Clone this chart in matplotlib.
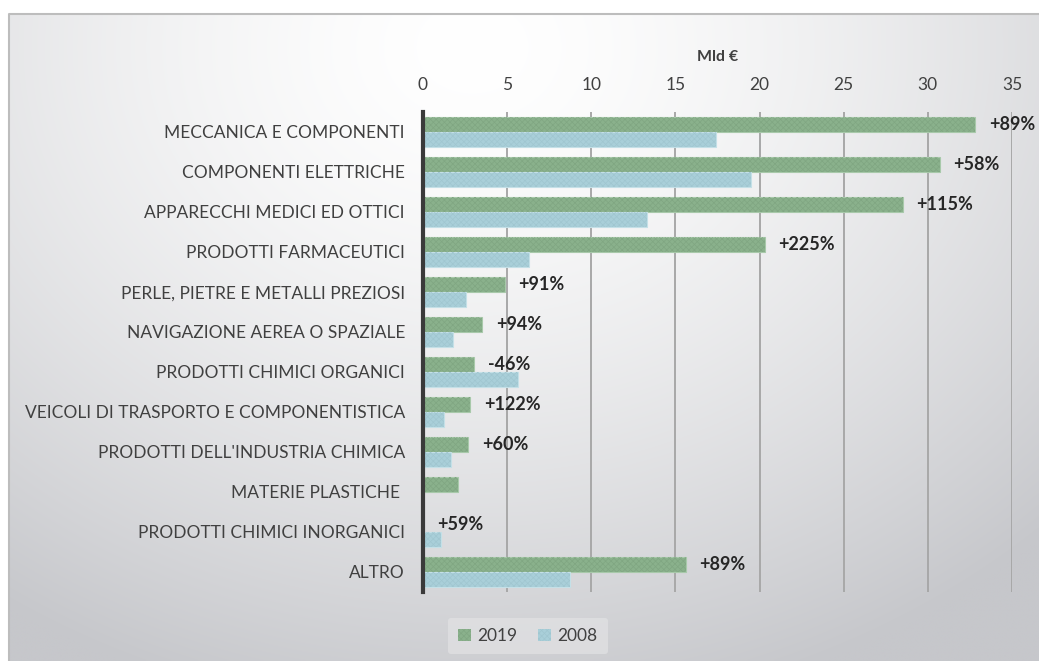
import matplotlib.pyplot as plt
import numpy as np
from matplotlib.patches import Patch

# data (Mld €)
categories = ["MECCANICA E COMPONENTI", "COMPONENTI ELETTRICHE", "APPARECCHI MEDICI ED OTTICI",
              "PRODOTTI FARMACEUTICI", "PERLE, PIETRE E METALLI PREZIOSI", "NAVIGAZIONE AEREA O SPAZIALE",
              "PRODOTTI CHIMICI ORGANICI", "VEICOLI DI TRASPORTO E COMPONENTISTICA",
              "PRODOTTI DELL'INDUSTRIA CHIMICA", "MATERIE PLASTICHE ", "PRODOTTI CHIMICI INORGANICI", "ALTRO"]
val_2019 = [32.8, 30.7, 28.5, 20.3, 4.85, 3.5, 3.05, 2.8, 2.7, 2.1, 0.0, 15.6]
val_2008 = [17.4, 19.5, 13.3, 6.3, 2.55, 1.8, 5.65, 1.25, 1.65, 0.0, 1.05, 8.75]
growth = ["+89%", "+58%", "+115%", "+225%", "+91%", "+94%", "-46%", "+122%", "+60%", "", "+59%", "+89%"]
x_ticks = [0, 5, 10, 15, 20, 25, 30, 35]

green = "#8AB18C"
green_dark = "#80A682"
blue = "#A9CFD9"
blue_dark = "#A0C6D0"
txt = "#404040"

plt.rcParams['font.family'] = ['Lato', 'DejaVu Sans']
plt.rcParams['hatch.linewidth'] = 0.5

W, H = 1039, 661
fig = plt.figure(figsize=(W / 100, H / 100), dpi=100)
fig.patch.set_facecolor("white")

# chart area background with soft gradient
bg = fig.add_axes([9 / W, 0, 1 - 9 / W, 1 - 14 / H], zorder=-5)
gx, gy = np.meshgrid(np.linspace(0, 1, 400), np.linspace(1, 0, 260))
d = np.sqrt(((gx - 0.45) / 0.8) ** 2 + ((gy - 0.95) / 1.05) ** 2)
t = np.clip(d, 0, 1) ** 1.5
c0 = np.array([255, 255, 255]) / 255
c1 = np.array([198, 199, 203]) / 255
img = c0[None, None, :] * (1 - t[..., None]) + c1[None, None, :] * t[..., None]
bg.imshow(img, aspect="auto", extent=(0, 1, 0, 1), interpolation="bilinear")
bg.set_xlim(0, 1)
bg.set_ylim(0, 1)
bg.axis("off")
bg.plot([0, 0, 1], [0, 1, 1], color="#BDBDBD", lw=1.5, clip_on=False)

ax = fig.add_axes([423 / W, 1 - 592 / H, (1012 - 423) / W, (592 - 112) / H])
ax.patch.set_alpha(0)

y = np.arange(len(categories))
h = 0.375
y19 = y - h / 2
y08 = y + h / 2

ax.barh(y19, val_2019, height=h, color=green, edgecolor="#A8C9AA", linewidth=0.8, zorder=3)
ax.barh(y19, val_2019, height=h, fill=False, hatch="xxxxxx", edgecolor=green_dark, linewidth=0, zorder=4)
ax.barh(y08, val_2008, height=h, color=blue, edgecolor="#C4E0E7", linewidth=0.8, zorder=3)
ax.barh(y08, val_2008, height=h, fill=False, hatch="xxxxxx", edgecolor=blue_dark, linewidth=0, zorder=4)

for i, g in enumerate(growth):
    if g:
        ax.annotate(g, (val_2019[i], y19[i]), xytext=(10, 0), textcoords="offset points",
                    ha="left", va="center", fontsize=13, fontweight="bold", color="#262626")

ax.set_xlim(0, 35)
ax.set_ylim(len(categories) - 0.5, -0.5)
ax.set_xticks(x_ticks)
ax.set_yticks(y)
ax.set_yticklabels(categories)
ax.xaxis.tick_top()
ax.tick_params(axis="x", length=0, pad=14, labelsize=12.5, labelcolor=txt)
ax.tick_params(axis="y", length=0, pad=13, labelsize=12.5, labelcolor=txt)
ax.set_xlabel("Mld €", fontsize=11.5, fontweight="bold", color=txt, labelpad=11)
ax.xaxis.set_label_position("top")

ax.grid(axis="x", color="#A8A8A8", linewidth=1.4, zorder=0)
ax.set_axisbelow(True)
for s in ["top", "right", "bottom"]:
    ax.spines[s].set_visible(False)
ax.spines["left"].set_color("#3A3A3A")
ax.spines["left"].set_linewidth(3)
ax.spines["left"].set_zorder(6)

handles = [Patch(facecolor=green, edgecolor=green_dark, hatch="xxxxxx", linewidth=0, label="2019"),
           Patch(facecolor=blue, edgecolor=blue_dark, hatch="xxxxxx", linewidth=0, label="2008")]
leg = fig.legend(handles=handles, loc="center", bbox_to_anchor=(528 / W, 1 - 636 / H), ncol=2,
                 fontsize=12.5, frameon=True, handlelength=0.7, handleheight=0.7,
                 handletextpad=0.4, columnspacing=1.2, borderpad=0.6)
leg.get_frame().set_facecolor("#E2E2E4")
leg.get_frame().set_edgecolor("none")
leg.get_frame().set_alpha(0.7)
for t_ in leg.get_texts():
    t_.set_color(txt)

fig.savefig("out.png", dpi=100)
